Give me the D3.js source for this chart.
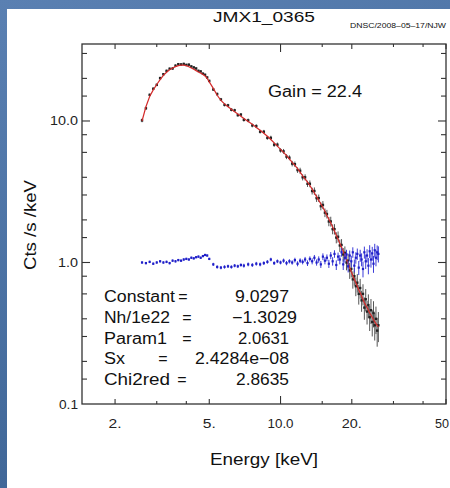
<!DOCTYPE html>
<html><head><meta charset="utf-8">
<script src="https://cdn.jsdelivr.net/npm/d3@7"></script>
<style>html,body{margin:0;padding:0;background:#4a70a2;overflow:hidden} svg{display:block}</style>
</head><body><svg id="c" width="450" height="488"></svg>
<script>
// ---- data ----
const energies = [2.6,2.7,2.8,2.9,3.0,3.1,3.2,3.3,3.4,3.5,3.6,3.7,3.8,3.9,4.0,4.1,4.2,4.3,4.4,4.5,4.6,4.7,4.8,4.9,5.0,
  5.2,5.4,5.6,5.8,6.0,6.2,6.4,6.6,6.8,7.0,7.3,7.6,7.9,8.2,8.5,8.8,9.1,9.4,9.7,10.0,
  10.3,10.6,10.9,11.2,11.5,11.8,12.1,12.4,12.7,13.0,13.3,13.6,13.9,14.2,14.5,14.8,15.1,15.4,15.7,16.0,16.3,16.6,16.9,17.2,17.5,17.8,
  18.1,18.4,18.7,19.0,19.3,19.6,19.9,20.2,20.5,20.8,21.1,21.4,21.7,22.0,22.3,22.6,22.9,23.2,23.5,23.8,24.1,24.4,24.7,25.0,25.3,25.6,25.9];
const model = [10.0,12.6,14.9,16.6,18.1,19.6,21.0,22.1,23.0,23.7,24.2,24.6,24.8,24.8,24.6,24.2,23.7,23.2,22.7,22.2,21.8,21.3,20.8,20.0,18.9,
  17.0,15.2,14.0,13.2,12.6,12.1,11.6,11.2,10.8,10.4,9.9,9.5,9.0,8.6,8.2,7.8,7.4,7.0,6.65,6.3,
  6.0,5.7,5.4,5.1,4.85,4.6,4.35,4.1,3.9,3.7,3.5,3.3,3.1,2.92,2.75,2.6,2.45,2.3,2.15,2.02,1.9,1.78,1.67,1.56,1.46,1.37,
  1.28,1.2,1.12,1.05,0.98,0.92,0.86,0.81,0.76,0.72,0.68,0.64,0.61,0.58,0.55,0.52,0.50,0.48,0.46,0.44,0.425,0.41,0.395,0.38,0.37,0.36,0.35];
const counts = [10.1,12.3,15.3,16.9,18.0,20.1,21.4,22.6,23.4,23.5,24.6,25.2,25.1,25.3,24.9,25.0,24.3,23.9,23.5,22.6,22.4,21.6,21.2,20.3,19.2,
  16.7,15.5,14.2,13.0,12.9,12.0,11.9,11.0,11.1,10.2,10.1,9.3,9.2,8.4,8.4,7.6,7.6,6.8,6.8,6.2,
  6.1,5.6,5.5,5.0,4.95,4.5,4.45,4.0,4.0,3.6,3.6,3.2,3.2,2.85,2.85,2.5,2.55,2.25,2.2,1.95,1.95,1.72,1.72,1.5,1.52,1.32,
  1.33,1.14,1.17,1.0,1.03,0.88,0.9,0.76,0.8,0.68,0.72,0.6,0.66,0.54,0.6,0.48,0.55,0.45,0.5,0.41,0.46,0.38,0.44,0.36,0.4,0.33,0.36];
const countErrFrac = [0.03,0.025,0.02,0.02,0.02,0.02,0.02,0.02,0.02,0.02,0.02,0.02,0.02,0.02,0.02,0.02,0.02,0.02,0.02,0.02,0.02,0.02,0.02,0.02,0.02,
  0.025,0.025,0.025,0.025,0.025,0.025,0.025,0.025,0.025,0.03,0.03,0.03,0.03,0.03,0.03,0.03,0.035,0.035,0.035,0.035,
  0.04,0.04,0.04,0.045,0.045,0.045,0.05,0.05,0.05,0.05,0.055,0.055,0.06,0.06,0.06,0.065,0.065,0.07,0.07,0.075,0.08,0.08,0.085,0.09,0.09,0.1,
  0.1,0.11,0.11,0.12,0.12,0.13,0.13,0.14,0.14,0.15,0.15,0.16,0.16,0.17,0.17,0.18,0.18,0.19,0.19,0.2,0.2,0.21,0.21,0.22,0.22,0.23,0.24];
const ratio = [1.00,0.99,1.01,0.98,1.00,1.02,1.00,1.01,0.99,1.03,1.02,1.04,1.03,1.05,1.06,1.05,1.08,1.07,1.09,1.10,1.08,1.11,1.13,1.12,1.06,
  0.97,0.93,0.92,0.93,0.94,0.93,0.95,0.94,0.96,0.95,0.97,0.96,0.98,0.97,0.99,1.01,1.05,0.99,1.02,1.00,
  1.03,0.99,1.02,1.00,1.04,0.98,1.03,1.01,1.05,0.99,1.06,1.02,1.08,1.00,1.05,0.97,1.10,1.03,1.08,0.98,1.12,1.02,1.15,0.96,1.10,1.05,
  1.18,0.97,1.08,1.14,0.94,1.12,1.02,1.18,0.95,1.08,1.15,0.92,1.12,1.05,0.90,1.18,1.02,1.12,0.95,1.20,1.05,1.16,0.98,1.22,1.08,1.18,1.15];
const ratioErr = [0.02,0.02,0.02,0.02,0.02,0.02,0.02,0.02,0.02,0.02,0.02,0.02,0.02,0.02,0.02,0.02,0.02,0.02,0.02,0.02,0.02,0.02,0.02,0.02,0.02,
  0.025,0.025,0.025,0.025,0.025,0.025,0.025,0.025,0.025,0.03,0.03,0.03,0.03,0.03,0.03,0.03,0.03,0.03,0.03,0.03,
  0.035,0.035,0.035,0.035,0.04,0.04,0.04,0.04,0.045,0.045,0.045,0.05,0.05,0.05,0.055,0.055,0.06,0.06,0.06,0.065,0.065,0.07,0.07,0.075,0.075,0.08,
  0.08,0.085,0.085,0.09,0.09,0.095,0.095,0.1,0.1,0.1,0.105,0.105,0.11,0.11,0.115,0.115,0.12,0.12,0.125,0.125,0.13,0.13,0.135,0.135,0.14,0.14,0.15];
const xLabelValues = [2,5,10,20,50];
const xLabelText = ["2.","5.","10.0","20.","50"];
const xMidTicks = [2,5,20,50];
const xMajorTicks = [10];
const xMinorTicks = [3,4,15,30,40];
const yLabelValues = [0.1,1,10];
const yLabelText = ["0.1","1.0","10.0"];
const yMajorTicks = [1,10];
const yMinorTicks = [0.15,0.2,0.3,0.4,0.6,0.8,1.5,2,3,4,6,8,15,20,30];
const paramNames = ["Constant","Nh/1e22","Param1","Sx","Chi2red"];
const paramValues = ["9.0297","\u22121.3029","2.0631","2.4284e\u221208","2.8635"];
const title = "JMX1_0365";
const stamp = "DNSC/2008\u201305\u201317/NJW";
const gainText = "Gain = 22.4";

// ---- drawing ----
const svg = d3.select("#c");
const defs = svg.append("defs");
const g = defs.append("linearGradient").attr("id","bg").attr("x1",0).attr("y1",0).attr("x2",0.3).attr("y2",1);
g.append("stop").attr("offset","0%").attr("stop-color","#5a80b2");
g.append("stop").attr("offset","100%").attr("stop-color","#3e6596");
svg.append("rect").attr("width",450).attr("height",488).attr("fill","url(#bg)");
svg.append("rect").attr("x",7).attr("y",9).attr("width",443).attr("height",479).attr("fill","#fff");

const L=82,R=446,T=44,B=404;
const x = d3.scaleLog().domain([1.45,50]).range([L,R]);
const y = d3.scaleLog().domain([0.1,35]).range([B,T]);
const font = "'Liberation Sans', Arial, Helvetica, sans-serif";
const axisCol = "#333";

// frame
svg.append("rect").attr("x",L).attr("y",T).attr("width",R-L).attr("height",B-T)
  .attr("fill","none").attr("stroke",axisCol).attr("stroke-width",1.3);

// ticks
const tk = svg.append("g").attr("stroke",axisCol).attr("stroke-width",1.1);
function xt(vals,len){ vals.forEach(v=>{
  tk.append("line").attr("x1",x(v)).attr("x2",x(v)).attr("y1",B).attr("y2",B-len);
  tk.append("line").attr("x1",x(v)).attr("x2",x(v)).attr("y1",T).attr("y2",T+len);
});}
xt(xMajorTicks,8); xt(xMidTicks,5); xt(xMinorTicks,3);
function yt(vals,len){ vals.forEach(v=>{
  tk.append("line").attr("y1",y(v)).attr("y2",y(v)).attr("x1",L).attr("x2",L+len);
  tk.append("line").attr("y1",y(v)).attr("y2",y(v)).attr("x1",R).attr("x2",R-len);
});}
yt(yMajorTicks,8); yt(yMinorTicks,5);

// tick labels
const xlw = {"2.":13,"5.":13,"10.0":26,"20.":20,"50":14};
svg.append("g").selectAll("text").data(xLabelValues).join("text")
  .attr("x",(d,i)=> i===xLabelValues.length-1 ? 449 : x(d))
  .attr("y",428).attr("text-anchor",(d,i)=> i===xLabelValues.length-1 ? "end" : "middle")
  .attr("font-family",font).attr("font-size",12).attr("fill","#222")
  .attr("textLength",(d,i)=>xlw[xLabelText[i]]).attr("lengthAdjust","spacingAndGlyphs")
  .text((d,i)=>xLabelText[i]);
const ylw = {"0.1":19,"1.0":20,"10.0":28};
svg.append("g").selectAll("text").data(yLabelValues).join("text")
  .attr("x",78).attr("y",d=>y(d)+4.5).attr("text-anchor","end")
  .attr("font-family",font).attr("font-size",12).attr("fill","#222")
  .attr("textLength",(d,i)=>ylw[yLabelText[i]]).attr("lengthAdjust","spacingAndGlyphs")
  .text((d,i)=>yLabelText[i]);

// black data with error bars
const dg = svg.append("g");
dg.selectAll("line").data(energies).join("line")
  .attr("x1",d=>x(d)).attr("x2",d=>x(d))
  .attr("y1",(d,i)=>y(counts[i]*(1+countErrFrac[i])))
  .attr("y2",(d,i)=>y(Math.max(counts[i]*(1-countErrFrac[i]),0.1)))
  .attr("stroke","#555").attr("stroke-width",1);
dg.selectAll("rect").data(energies).join("rect")
  .attr("x",d=>x(d)-1.2).attr("y",(d,i)=>y(counts[i])-1.2).attr("width",2.4).attr("height",2.4)
  .attr("fill","#222");

// red model line
svg.append("path").datum(energies)
  .attr("d",d3.line().x(d=>x(d)).y((d,i)=>y(model[i])))
  .attr("fill","none").attr("stroke","#d42a2a").attr("stroke-width",1.2);

// blue ratio
const bg2 = svg.append("g");
bg2.selectAll("line").data(energies).join("line")
  .attr("x1",d=>x(d)).attr("x2",d=>x(d))
  .attr("y1",(d,i)=>y(ratio[i]+ratioErr[i])).attr("y2",(d,i)=>y(ratio[i]-ratioErr[i]))
  .attr("stroke","#3b3bd8").attr("stroke-width",1);
bg2.selectAll("rect").data(energies).join("rect")
  .attr("x",d=>x(d)-1.1).attr("y",(d,i)=>y(ratio[i])-1.1).attr("width",2.2).attr("height",2.2)
  .attr("fill","#1f1fc8");

// texts
function txt(s,xp,yp,size,len,anchor){
  const t = svg.append("text").attr("x",xp).attr("y",yp).attr("font-family",font)
    .attr("font-size",size).attr("fill","#111").attr("text-anchor",anchor||"start").text(s);
  if(len) t.attr("textLength",len).attr("lengthAdjust","spacingAndGlyphs");
  return t;
}
txt(title,213,22,15,102);
txt(stamp,350,28,6.5,96);
txt(gainText,268,97,16,94);
txt("Energy [keV]",210,465,16,108);
svg.append("text").attr("transform","translate(36,270) rotate(-90)")
  .attr("font-family",font).attr("font-size",16).attr("fill","#111")
  .attr("textLength",90).attr("lengthAdjust","spacingAndGlyphs").text("Cts /s /keV");

const rowY = [302,323,344,364,385];
const nameLen = [71,66,63,21,66];
const eqX = [183,187,187,163,182];
const valStart = [235,232,238,195,236];
const valLen = [54,65,51,94,53];
paramNames.forEach((n,i)=>{
  txt(n,104,rowY[i],16,nameLen[i]);
  txt("=",eqX[i],rowY[i],16,null,"middle");
  txt(paramValues[i],valStart[i],rowY[i],16,valLen[i]);
});
</script></body></html>
